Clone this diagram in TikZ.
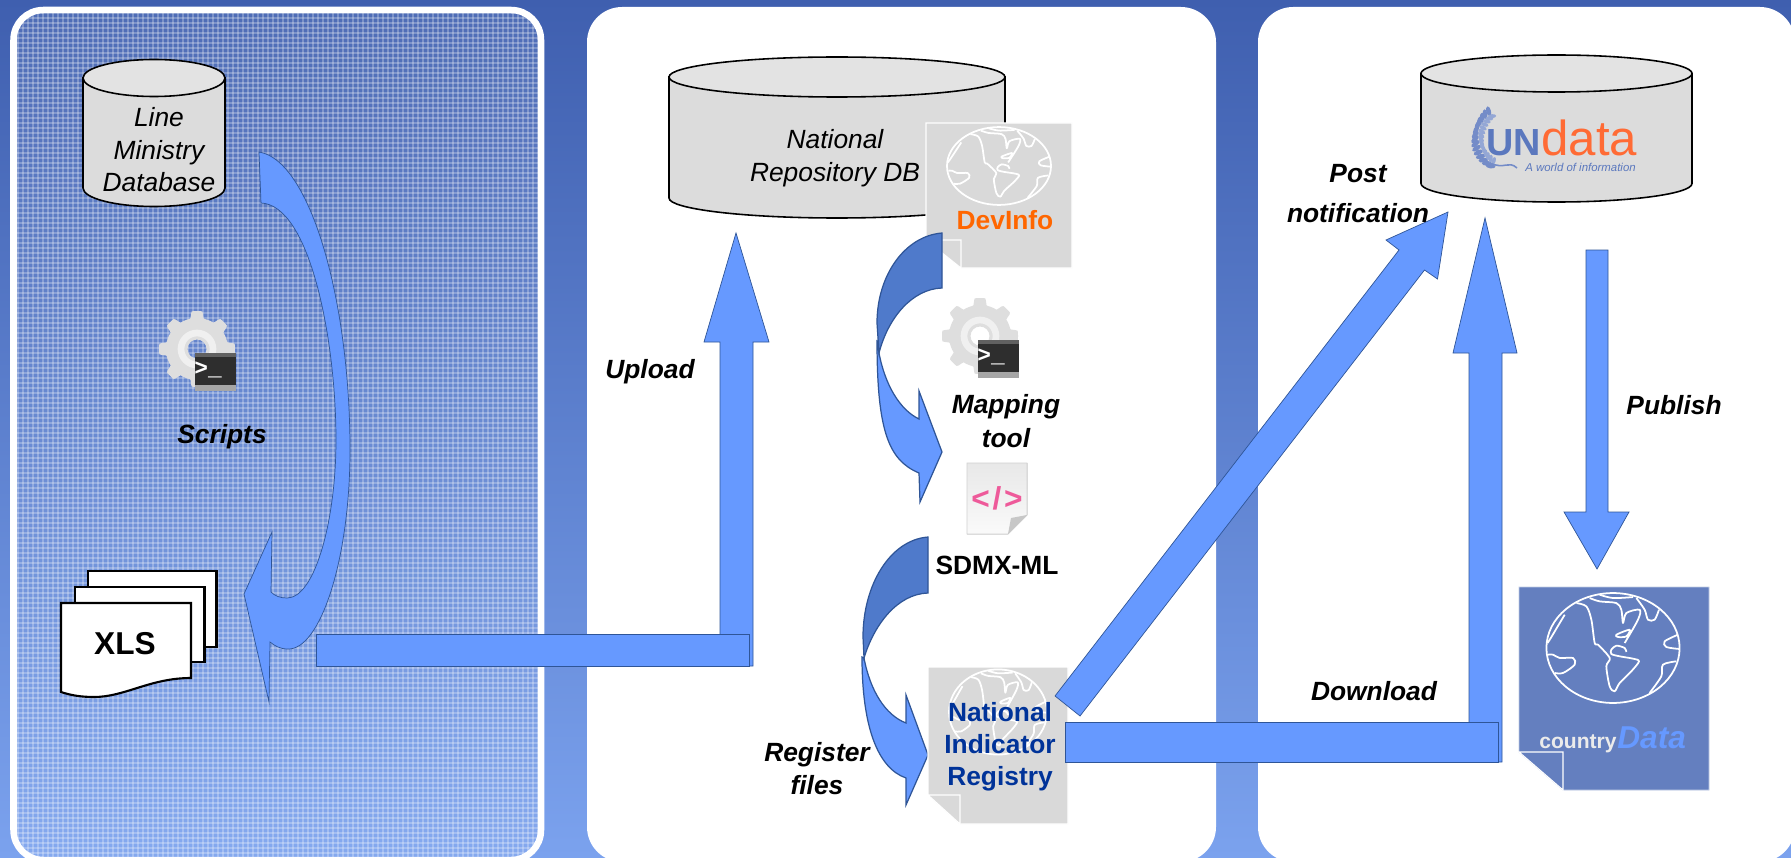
\documentclass[tikz,border=0pt]{standalone}
\usepackage{fontspec}
\setmainfont{Liberation Sans}
\setmonofont{Liberation Mono}
\usepackage{xcolor}
\usepackage{tikz}
\usetikzlibrary{calc, positioning}

\definecolor{bgtop}{HTML}{3F5FAF}
\definecolor{bgbottom}{HTML}{7BA2EE}
\definecolor{arrowblue}{HTML}{6699FF}
\definecolor{arrowdark}{HTML}{4F7ACB}
\definecolor{arrowline}{HTML}{2F5597}
\definecolor{dbbody}{HTML}{DCDCDC}
\definecolor{dbtop}{HTML}{E3E3E3}
\definecolor{docgrey}{HTML}{D9D9D9}
\definecolor{docblue}{HTML}{647FBF}
\definecolor{navy}{HTML}{003399}
\definecolor{devorange}{HTML}{FF6600}
\definecolor{undataorange}{HTML}{FF6B35}
\definecolor{undatablue}{HTML}{5B78BE}
\definecolor{xmlpink}{HTML}{EE5A9A}

\begin{document}
\begin{tikzpicture}[
    x=0.02cm, y=-0.02cm,
    dbbodyline/.style={draw=black, fill=dbbody, line width=.9pt},
    dbtopline/.style={draw=black, fill=dbtop, line width=.9pt},
    bigarrow/.style={fill=arrowblue, draw=arrowline, line width=.4pt, line join=miter},
    curvearrow/.style={fill=arrowblue, draw=arrowline, line width=.7pt},
    curveback/.style={fill=arrowdark, draw=arrowline, line width=.7pt},
    dbtext/.style={font=\fontsize{15}{18.5}\selectfont\itshape, align=center, inner sep=0pt},
    notelabel/.style={font=\fontsize{15}{18.3}\selectfont\bfseries\itshape, align=center, inner sep=0pt},
    doclabel/.style={font=\fontsize{15}{18.3}\selectfont\bfseries, align=center, inner sep=0pt},
    page/.style={draw=black, fill=white, line width=1.2pt},
    globeline/.style={draw=white, line width=1pt, line join=round},
    globe/.pic={
        \path[globeline] (0,0) ellipse [x radius=200, y radius=165];
        \path[globeline]
            plot[smooth] coordinates {(-110,-135) (-80,-125) (-65,-85) (-55,-15) (-45,-10) (-10,30) (-20,55) (-10,115) (5,130) (20,105) (55,70) (78,40) (60,32) (20,25) (-5,18) (-5,5) (10,-7) (35,0) (40,12)}
            plot[smooth] coordinates {(-70,-150) (-40,-140) (10,-135) (25,-115) (30,-75) (40,-105) (80,-115) (75,-85) (35,-15)}
            plot[smooth] coordinates {(-40,-160) (0,-150) (60,-153)}
            plot[smooth] coordinates {(70,-150) (95,-115) (105,-85) (125,-85) (138,-115)}
            plot[smooth] coordinates {(195,-40) (155,-20) (160,-3) (200,3)}
            plot[smooth] coordinates {(190,40) (150,50) (145,85) (110,135)}
            plot[smooth] coordinates {(-145,-100) (-160,-75) (-190,-25) (-197,-15)}
            plot[smooth] coordinates {(-195,20) (-180,20) (-160,30) (-120,30) (-115,50) (-150,75) (-175,75)}
            plot[smooth cycle] coordinates {(10,-40) (50,-55) (40,-35) (15,-33)};
    },
    gearicon/.pic={
        \fill[black!13, even odd rule] plot[domain=0:360, samples=181, smooth] (\x:{31+7*min(1,max(0,1.7*cos(8*\x)+.25))}) -- cycle (0,0) circle (9.5);
        \draw[black!6, line width=3.8pt] (0,0) circle (16);
        % terminal
        \fill[black!82] (-2,4) rectangle (39,36);
        \fill[black!62] (-2,4) rectangle (39,8);
        \fill[black!35] (-2,36) rectangle (39,42);
        \node[inner sep=0pt, text=white, font=\fontsize{13}{13}\selectfont\ttfamily\bfseries] (-prompt) at (11,21) {>\_};
    }
]

\useasboundingbox (0,0) rectangle (1791,858);

% Background and panels
\fill[top color=bgtop, bottom color=bgbottom] (0,0) rectangle (1791,858);
\begin{scope}
    \clip[rounded corners=17pt] (14,10) rectangle (541,860);
    \fill[white, opacity=.08] (0,0) rectangle (600,860);
    \foreach \gx in {17,22,...,540} {
        \fill[white, opacity=.26] (\gx,0) rectangle ++(2,858);
    }
    \foreach \gy in {12,17,...,858} {
        \fill[white, opacity=.26] (0,\gy) rectangle ++(1791,2);
    }
\end{scope}
\draw[white, line width=3.7pt, rounded corners=17pt] (13.5,10) rectangle (541,860);
\fill[white, rounded corners=20pt] (587,7) rectangle (1216,862);
\fill[white, rounded corners=20pt] (1258,7) rectangle (1795,862);

% Line ministry side
\draw[dbbodyline] (83,78) -- (83,188) arc [start angle=180, end angle=0, x radius=71, y radius=18.5] -- (225,78) -- cycle;
\draw[dbtopline] (154,78) ellipse [x radius=71, y radius=18.5];
\node[dbtext] (line_db) at (159,150) {Line\\Ministry\\Database};
\pic (scripts_icon) at (197,349) {gearicon};
\node[notelabel] (scripts_label) at (222,437) {Scripts};

% XLS stack
\node[page, anchor=north west, minimum width=129*0.5669pt, minimum height=76*0.5669pt, inner sep=0pt] (xls_back) at (87,570) {};
\node[page, anchor=north west, minimum width=130*0.5669pt, minimum height=75*0.5669pt, inner sep=0pt] (xls_mid) at (74,586) {};
\draw[page] (61,603) -- (191,603) -- (191,678) .. controls (150,678) and (125,697) .. (94,697) .. controls (80,697) and (70,695) .. (61,692) -- cycle;
\node[font=\fontsize{18}{18}\selectfont\bfseries, inner sep=0pt] (xls_label) at (125,644) {XLS};

% Scripts arrow
\coordinate (scripts_start) at (259,152);
\coordinate (scripts_inner) at (261,203);
\draw[curvearrow, line width=.4pt] (scripts_start) .. controls (310,160) and (350,300) .. (350,450) .. controls (350,560) and (320,650) .. (288,649) .. controls (280,649) and (275,646) .. (270,642)
    -- (269,702) -- (244,594) -- (272,532) -- (271,592)
    .. controls (275,596) and (280,598) .. (287,598) .. controls (315,598) and (336,520) .. (336,440) .. controls (336,340) and (310,205) .. (scripts_inner) -- cycle;

% Upload arrow
\coordinate (upload_tip) at (736,233);
\draw[bigarrow] (upload_tip) -- ++(33,109) -- ++(-16,0) -- ++(0,324) -- ++(-33,0) -- ++(0,-324) -- ++(-16,0) -- cycle;
\coordinate (upload_tail) at (316,634);
\draw[bigarrow] (upload_tail) rectangle ++(433,32);
\node[notelabel] (upload_label) at (650,372) {Upload};

% National repository
\draw[dbbodyline] (669,77) -- (669,198) arc [start angle=180, end angle=0, x radius=168, y radius=20] -- (1005,77) -- cycle;
\draw[dbtopline] (837,77) ellipse [x radius=168, y radius=20];
\node[dbtext] (repo_db) at (835,158) {National\\[.2pt]Repository DB};

% DevInfo sheet
\fill[docgrey, draw=white, line width=.6pt] (926,123) -- (1072,123) -- (1072,268) -- (961,268) -- (926,240) -- cycle;
\fill[docgrey, draw=white, line width=.6pt] (926,240) -- (961,240) -- (961,268) -- cycle;
\pic[xscale=.26, yscale=.236] (devinfo_globe) at (999,166) {globe};
\node[doclabel, text=devorange] (devinfo_label) at (1005,220) {DevInfo};

% Mapping arrow
\coordinate (mapping_start) at (942,233);
\coordinate (mapping_cross) at (879,353);
\draw[curvearrow] (mapping_cross) .. controls (885,385) and (900,410) .. (919,419) -- (919,391) -- (942,452) -- (920,502) -- (919,473)
    .. controls (888,460) and (877,430) .. (877,340) -- cycle;
\draw[curveback] (mapping_start) .. controls (905,236) and (877,275) .. (877,323) -- (mapping_cross)
    .. controls (888,318) and (912,289) .. (942,288) -- cycle;

\pic (mapping_icon) at (980,336) {gearicon};
\node[notelabel] (mapping_label) at (1006,421) {Mapping\\[1pt]tool};

% SDMX file
\fill[top color=black!9, bottom color=black!2, draw=black!18, line width=.5pt] (967,463) -- (1027,463) -- (1027,515) -- (1008,534) -- (967,534) -- cycle;
\fill[black!22] (1027,515) -- (1008,534) -- (1011,518) -- cycle;
\node[text=xmlpink, font=\fontsize{18}{18}\selectfont\bfseries, inner sep=0pt] (xml_label) at (997,498) {<\kern1.6pt/\kern1.6pt>};
\node[doclabel] (sdmx_label) at (997,565) {SDMX-ML};

% Register arrow
\coordinate (register_start) at (928,537);
\coordinate (register_cross) at (864,658);
\draw[curvearrow] (register_cross) .. controls (870,690) and (885,715) .. (906,723) -- (906,695) -- (928,755) -- (906,805) -- (906,778)
    .. controls (877,768) and (862,725) .. (862,657) -- cycle;
\draw[curveback] (register_start) .. controls (890,540) and (863,585) .. (863,637) -- (register_cross)
    .. controls (874,625) and (897,594) .. (928,593) -- cycle;
\node[notelabel] (register_label) at (817,768.5) {Register\\files};

% National indicator registry sheet
\fill[docgrey, draw=white, line width=.6pt] (928,667) -- (1068,667) -- (1068,824) -- (960,824) -- (928,795) -- cycle;
\fill[docgrey, draw=white, line width=.6pt] (928,795) -- (960,795) -- (960,824) -- cycle;
\pic[xscale=.245, yscale=.258] (registry_globe) at (998,712) {globe};

% Post notification arrow
\coordinate (post_tip) at (1448,212);
\draw[bigarrow] (post_tip) -- (1437.5,279) -- (1424.5,270) -- (1080,716) -- (1055,696) -- (1399,250) -- (1386,240) -- cycle;
\node[notelabel, font=\fontsize{15}{22.7}\selectfont\bfseries\itshape] (post_label) at (1358,194) {Post\\notification};

\node[doclabel, text=navy] (registry_label) at (1000,746.5) {National\\Indicator\\Registry};

% Download arrow
\coordinate (download_tip) at (1485,218);
\draw[bigarrow] (download_tip) -- ++(32,135) -- ++(-15,0) -- ++(0,409) -- ++(-33,0) -- ++(0,-409) -- ++(-16,0) -- cycle;
\coordinate (download_tail) at (1065,722);
\draw[bigarrow] (download_tail) rectangle ++(433,40);
\node[notelabel] (download_label) at (1374,691) {Download};

% UNdata store
\draw[dbbodyline] (1421,73.5) -- (1421,183.5) arc [start angle=180, end angle=0, x radius=135.5, y radius=18.5] -- (1692,73.5) -- cycle;
\draw[dbtopline] (1556.5,73.5) ellipse [x radius=135.5, y radius=18.5];
\foreach \leafangle in {122,130,...,238} {
    \fill[undatablue!85] (1508,138) ++(\leafangle:33) ellipse [x radius=5, y radius=2.4, rotate=\leafangle+50];
    \fill[undatablue!65] (1508,138) ++(\leafangle:27) ellipse [x radius=4, y radius=2, rotate=\leafangle-50];
}
\draw[undatablue!85, line width=.9pt] (1490,163) .. controls (1505,170) and (1508,160) .. (1517,168);
\node[text=undatablue, font=\fontsize{21.5}{21.5}\selectfont\bfseries, inner sep=0pt, anchor=base east] (undata_un) at (1541,156) {UN};
\node[text=undataorange, font=\fontsize{28}{28}\selectfont, inner sep=0pt, anchor=base west] (undata_data) at (1541,156) {data};
\node[text=undatablue, font=\fontsize{6.5}{6.5}\selectfont\itshape, inner sep=0pt] (undata_tag) at (1580.5,167) {A world of information};

% Publish arrow
\coordinate (publish_tip) at (1597,569);
\draw[bigarrow] (publish_tip) -- (1564,512) -- (1586,512) -- (1586,250) -- (1608,250) -- (1608,512) -- (1629,512) -- cycle;
\node[notelabel] (publish_label) at (1674,405) {Publish};

% countryData sheet
\fill[docblue, draw=white!60!docblue, line width=.5pt] (1519,587) -- (1709,587) -- (1709,790) -- (1563,790) -- (1519,752) -- cycle;
\fill[docblue, draw=white, line width=.6pt] (1519,752) -- (1563,752) -- (1563,790) -- cycle;
\pic[scale=.333] (country_globe) at (1613,648) {globe};
\node[text=white!92!black, font=\fontsize{12}{12}\selectfont\bfseries, inner sep=0pt, anchor=base east] (country_label) at (1617,748) {country};
\node[text=arrowblue, font=\fontsize{18}{18}\selectfont\bfseries\itshape, inner sep=0pt, anchor=base west] (data_label) at (1617,748) {Data};

\end{tikzpicture}
\end{document}
